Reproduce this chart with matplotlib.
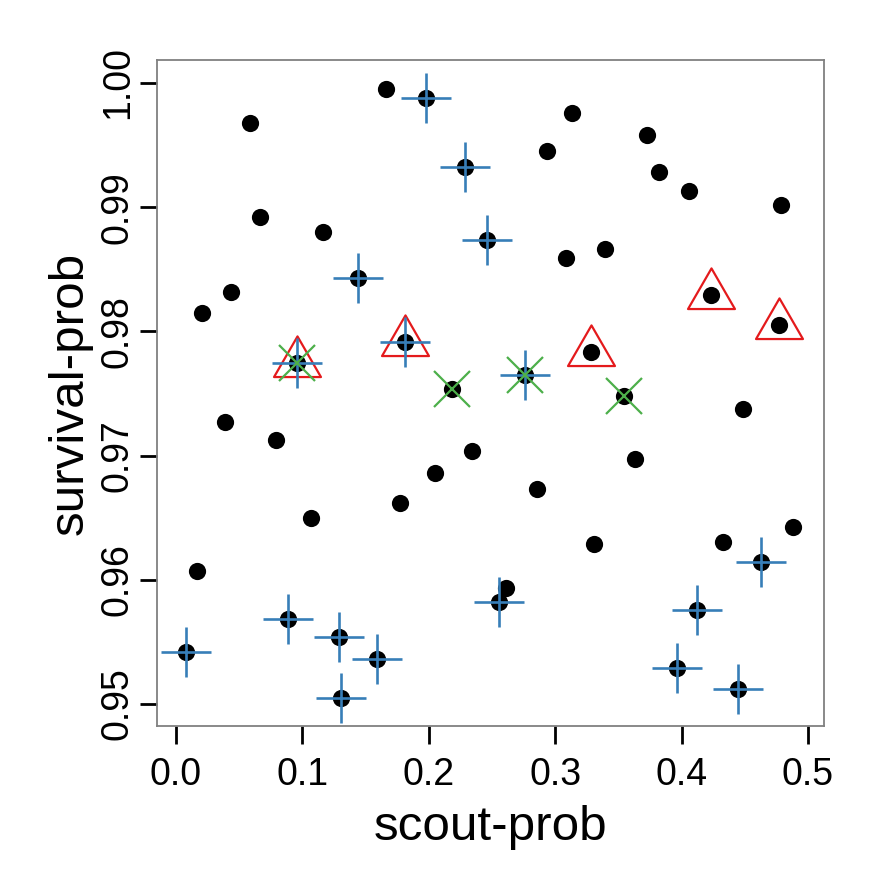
import numpy as np
import matplotlib
matplotlib.use("Agg")
import matplotlib.pyplot as plt
from matplotlib.path import Path

plt.rcParams['font.family'] = ['Liberation Sans', 'DejaVu Sans']

# all sampled runs (scout-prob, survival-prob)
scout_prob = [0.1658, 0.1976, 0.0585, 0.2285, 0.0662, 0.1160, 0.2461, 0.1439, 0.0432, 0.0203,
              0.0954, 0.1810, 0.2187, 0.3130, 0.2933, 0.3729, 0.3818, 0.4061, 0.4788, 0.3083,
              0.3397, 0.4229, 0.4767, 0.3281, 0.2759, 0.3542, 0.4488, 0.3634, 0.2854, 0.4883,
              0.3310, 0.4330, 0.4627, 0.2553, 0.2614, 0.4126, 0.3960, 0.4443, 0.0387, 0.0788,
              0.2345, 0.2053, 0.1776, 0.1067, 0.0166, 0.0888, 0.0079, 0.1289, 0.1589, 0.1304]
survival_prob = [0.99950, 0.99881, 0.99676, 0.99325, 0.98919, 0.98803, 0.98739, 0.98430, 0.98314, 0.98145,
                 0.97745, 0.97915, 0.97538, 0.99757, 0.99450, 0.99585, 0.99287, 0.99134, 0.99015, 0.98594,
                 0.98666, 0.98290, 0.98048, 0.97831, 0.97651, 0.97476, 0.97377, 0.96969, 0.96727, 0.96421,
                 0.96292, 0.96305, 0.96142, 0.95822, 0.95932, 0.95757, 0.95290, 0.95118, 0.97272, 0.97127,
                 0.97033, 0.96856, 0.96622, 0.96501, 0.96074, 0.95683, 0.95417, 0.95540, 0.95360, 0.95046]

# which runs get an extra symbol
plus_idx = [1, 3, 6, 7, 10, 11, 24, 32, 33, 35, 36, 37, 45, 46, 47, 48, 49]
triangle_idx = [10, 11, 21, 22, 23]
cross_idx = [10, 12, 24, 25]

x_ticks = [0.0, 0.1, 0.2, 0.3, 0.4, 0.5]
x_tick_labels = ["0.0", "0.1", "0.2", "0.3", "0.4", "0.5"]
y_ticks = [0.95, 0.96, 0.97, 0.98, 0.99, 1.00]
y_tick_labels = ["0.95", "0.96", "0.97", "0.98", "0.99", "1.00"]

x = np.array(scout_prob)
y = np.array(survival_prob)

fig = plt.figure(figsize=(8.85, 8.85), dpi=100)
ax = fig.add_axes([0.1774, 0.1797, 0.7537, 0.7525])

# equilateral triangle centred on its centroid, like R's pch 2
h = np.sqrt(3) / 2
tri = Path([(0, 2 * h / 3), (-0.5, -h / 3), (0.5, -h / 3), (0, 2 * h / 3)],
           [Path.MOVETO, Path.LINETO, Path.LINETO, Path.CLOSEPOLY])

ax.plot(x, y, 'o', color='black', ms=12.4, mew=0, zorder=2)
ax.plot(x[triangle_idx], y[triangle_idx], linestyle='none', marker=tri, ms=39,
        mfc='none', mec='#E41A1C', mew=1.6, zorder=3)
ax.plot(x[plus_idx], y[plus_idx], '+', color='#377EB8', ms=36.7, mew=1.9, zorder=4)
ax.plot(x[cross_idx], y[cross_idx], 'x', color='#4DAF4A', ms=26.4, mew=1.6, zorder=5)

ax.set_xlim(-0.015, 0.5127)
ax.set_ylim(0.94823, 1.00185)

ax.set_xticks(x_ticks)
ax.set_xticklabels(x_tick_labels)
ax.set_yticks(y_ticks)
ax.set_yticklabels(y_tick_labels)

for s in ax.spines.values():
    s.set_color('#808080')
    s.set_linewidth(1.3)

ax.tick_params(axis='both', length=12.6, width=2, color='black', labelsize=27)
ax.tick_params(axis='x', pad=9.7)
ax.tick_params(axis='y', pad=2.7, labelrotation=90)
for lab in ax.get_yticklabels():
    lab.set_va('center')

ax.set_xlabel("scout-prob", fontsize=35.6, labelpad=9)
ax.set_ylabel("survival-prob", fontsize=35.6, labelpad=5)

fig.savefig("out.png", dpi=100)
